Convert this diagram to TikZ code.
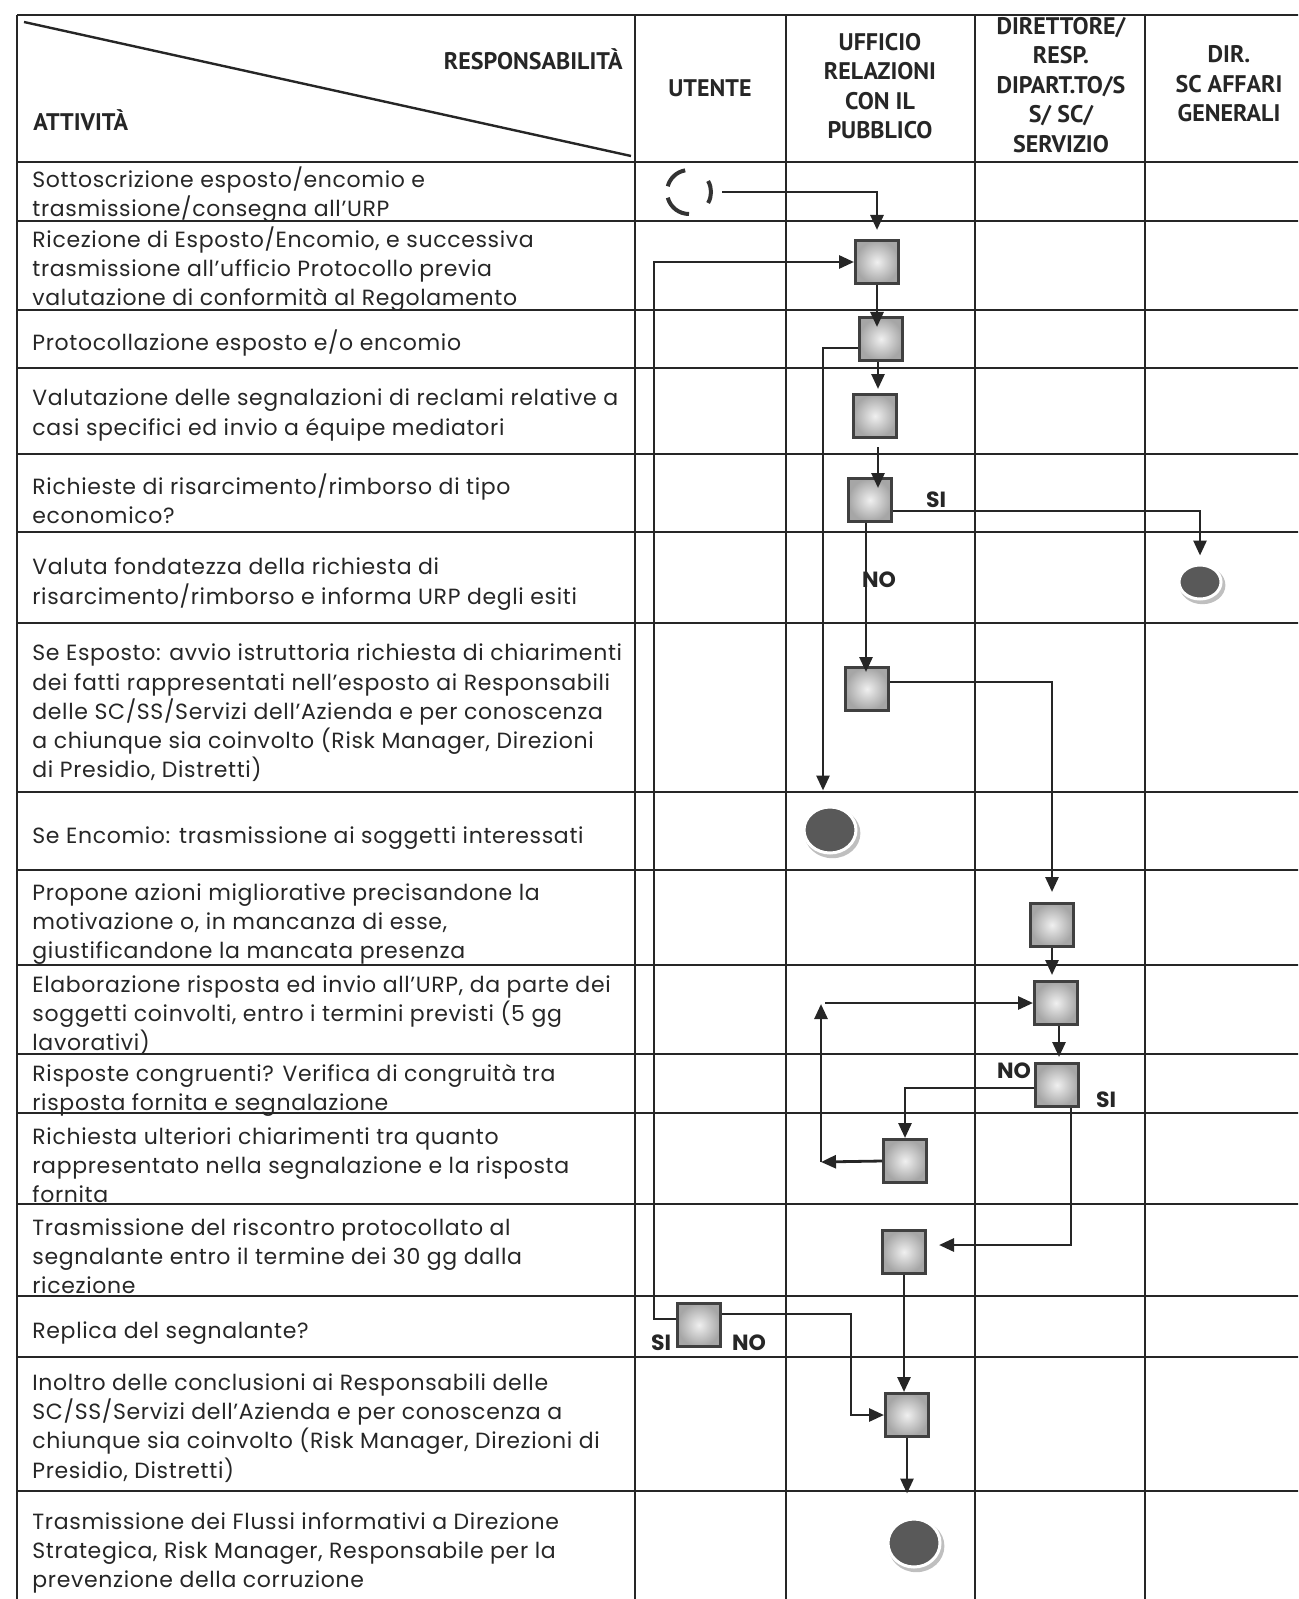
\documentclass[tikz,border=0pt]{standalone}
\usepackage{fontspec}
\setmainfont{Poppins}
\newfontfamily\bodyfont[LetterSpace=3]{Poppins}
\newfontfamily\headfont{PT Sans}
\usetikzlibrary{arrows.meta,shapes.geometric,backgrounds}

\begin{document}
\begin{tikzpicture}[x=0.5pt,y=-0.5pt,
    grid/.style={line width=0.9pt,draw=black!85},
    head/.style={font=\headfont\bfseries\fontsize{12}{14.75}\selectfont,align=center,text=black!85,inner sep=0pt},
    activity/.style={anchor=west,align=left,inner sep=0pt,font=\bodyfont\fontsize{11}{14.6}\selectfont,text=black!85},
    stepbox/.style={rectangle,minimum size=21.5pt,inner sep=0pt,draw=black!75,line width=1.5pt,shade,inner color=gray!12,outer color=gray!70},
    endpt/.style={ellipse,fill=black!65,draw=white,line width=1.5pt,inner sep=0pt},
    flow/.style={line width=1.4pt,draw=black!85,-{Triangle[length=7.5pt,width=6.5pt]}},
    branch/.style={font=\bfseries\fontsize{11}{13}\selectfont,text=black!85,inner sep=0pt}]
    \useasboundingbox (0,0) rectangle (1298,1599);
    \clip (0,0) rectangle (1298,1599);
    %% table
    \foreach \y in {15,162,221,310,368,454,532,623,792,870,965,1054,1113,1204,1296,1357,1491}
        \draw[grid] (17,\y) -- (1310,\y);
    \foreach \x in {17,635,786,975,1145}
        \draw[grid] (\x,15) -- (\x,1620);
    \draw[line width=1.2pt,black!85] (24,22) -- (631,156);
    %% header
    \node[head,anchor=east] (resp) at (623,59) {RESPONSABILITÀ};
    \node[head,anchor=west] (att) at (33,120) {ATTIVITÀ};
    \node[head] (utente) at (710,88) {UTENTE};
    \node[head] (urp) at (880,86) {UFFICIO\\RELAZIONI\\CON IL\\PUBBLICO};
    \node[head] (dir) at (1061,85) {DIRETTORE/\\RESP.\\DIPART.TO/S\\S/ SC/\\SERVIZIO};
    \node[head] (affari) at (1229,84) {DIR.\\SC AFFARI\\GENERALI};
    %% activities
    \node[activity] (a1) at (32,195) {Sottoscrizione esposto/encomio e\\trasmissione/consegna all’URP};
    \node[activity] (a2) at (32,269) {Ricezione di Esposto/Encomio, e successiva\\trasmissione all’ufficio Protocollo previa\\valutazione di conformità al Regolamento};
    \node[activity] (a3) at (32,343) {Protocollazione esposto e/o encomio};
    \node[activity] (a4) at (32,415) {Valutazione delle segnalazioni di reclami relative a\\casi specifici ed invio  a équipe mediatori};
    \node[activity] (a5) at (32,499) {Richieste di risarcimento/rimborso di tipo\\economico?};
    \node[activity] (a6) at (32,584) {Valuta fondatezza della richiesta di\\risarcimento/rimborso  e informa URP degli esiti};
    \node[activity] (a7) at (32,713) {Se Esposto: avvio istruttoria richiesta di chiarimenti\\dei fatti rappresentati nell’esposto ai Responsabili\\delle SC/SS/Servizi dell’Azienda e per conoscenza\\a chiunque sia coinvolto (Risk Manager, Direzioni\\di Presidio, Distretti)};
    \node[activity] (a8) at (32,838) {Se Encomio: trasmissione ai soggetti interessati};
    \node[activity] (a9) at (32,924) {Propone azioni migliorative  precisandone la\\motivazione o, in mancanza di esse,\\giustificandone la mancata presenza};
    \node[activity] (a10) at (32,1015) {Elaborazione risposta ed invio all’URP, da parte dei\\soggetti coinvolti, entro i termini previsti (5 gg\\lavorativi)};
    \node[activity] (a11) at (32,1090) {Risposte congruenti? Verifica di congruità tra\\risposta fornita e segnalazione};
    \node[activity] (a12) at (32,1165) {Richiesta ulteriori chiarimenti tra quanto\\rappresentato nella segnalazione e la risposta\\fornita};
    \node[activity] (a13) at (32,1256) {Trasmissione del riscontro protocollato al\\segnalante  entro il termine dei 30 gg dalla\\ricezione};
    \node[activity] (a14) at (32,1333) {Replica del segnalante?};
    \node[activity] (a15) at (32,1428) {Inoltro delle conclusioni ai Responsabili delle\\SC/SS/Servizi dell’Azienda e per conoscenza a\\chiunque sia coinvolto (Risk Manager, Direzioni di\\Presidio, Distretti)};
    \node[activity] (a16) at (32,1553) {Trasmissione dei Flussi informativi a Direzione\\Strategica, Risk Manager, Responsabile per la\\prevenzione della corruzione};
    %% start
    \node[circle,minimum size=22pt,inner sep=0pt] (start) at (689,192) {};
    \foreach \a/\b in {100/165,195/270,-30/30}
        \draw[line width=2pt,black!80] ([shift={(\a:11pt)}]start.center) arc[start angle=\a,end angle=\b,radius=11pt];
    %% steps
    \node[stepbox] (ric) at (877,262) {};
    \node[stepbox] (prot) at (881,339) {};
    \node[stepbox] (val) at (875,416) {};
    \node[stepbox] (risarc) at (870,500) {};
    \node[stepbox] (esposto) at (867,689) {};
    \node[stepbox] (propone) at (1052,925) {};
    \node[stepbox] (elab) at (1056,1003) {};
    \node[stepbox] (congr) at (1057,1085) {};
    \node[stepbox] (ulter) at (905,1161) {};
    \node[stepbox] (riscontro) at (904,1252) {};
    \node[stepbox] (replica) at (699,1325) {};
    \node[stepbox] (inoltro) at (907,1415) {};
    %% ends
    \node[endpt,minimum width=21pt,minimum height=17pt] (endaffari) at (1200,582) {};
    \node[endpt,minimum width=26pt,minimum height=23pt] (endencomio) at (830,830) {};
    \node[endpt,minimum width=26pt,minimum height=24pt] (endflussi) at (914,1543) {};
    \begin{scope}[on background layer]
        \foreach \e/\rx/\ry in {endaffari/11.5/9.5,endencomio/14/12.5,endflussi/14/13}
            \fill[gray!50] ([shift={(1.2pt,-1.6pt)}]\e.center) ellipse[x radius=\rx pt,y radius=\ry pt];
    \end{scope}
    %% labels
    \node[branch] (si1) at (936,500) {SI};
    \node[branch] (no1) at (879,580) {NO};
    \node[branch] (no2) at (1014,1071) {NO};
    \node[branch] (si2) at (1106,1100) {SI};
    \node[branch] (si3) at (661,1343) {SI};
    \node[branch] (no3) at (749,1343) {NO};
    %% connectors
    \coordinate (sicorner) at (654,262);
    \coordinate (nocorner) at (851,1415);
    \coordinate (backl) at (821,1162);
    \coordinate (backu) at (821,1004);
    \draw[flow,shorten >=4.5pt] ([xshift=5.5pt]start.east) -| (ric.north);
    \draw[flow,shorten >=-5.5pt] (ric.south) -- (ric.south |- prot.north);
    \draw[flow,shorten >=2pt] ([xshift=-1.5pt]prot.south) -- ([xshift=-1.5pt]prot.south |- val.north);
    \draw[flow,shorten <=4pt,shorten >=-5.5pt] ([xshift=1.5pt]val.south) -- ([xshift=1.5pt]val.south |- risarc.north);
    \draw[flow,shorten >=4pt] ([yshift=-5.5pt]risarc.east) -| (endaffari.north);
    \draw[flow,shorten >=-3pt] ([xshift=-2pt]risarc.south) -- ([xshift=-2pt]risarc.south |- esposto.north);
    \draw[flow] ([yshift=-4.5pt]prot.west) -| ([xshift=-3.5pt,yshift=7.5pt]endencomio.north);
    \draw[flow,shorten >=5pt] ([yshift=3.5pt]esposto.east) -| (propone.north);
    \draw[flow,shorten >=2.5pt] (propone.south) -- (propone.south |- elab.north);
    \draw[flow,shorten >=2.5pt] ([xshift=1.5pt]elab.south) -- ([xshift=1.5pt]elab.south |- congr.north);
    \draw[flow] ([yshift=-1.5pt]congr.west) -| (ulter.north);
    \draw[flow] (ulter.west) -- (backl);
    \draw[flow] (backl) -- (backu);
    \draw[flow] ([xshift=2pt]elab.west -| backu) -- (elab.west);
    \draw[flow,shorten >=6pt] ([xshift=7pt]congr.south) |- ([yshift=3.5pt]riscontro.east);
    \draw[flow] (riscontro.south) -- (riscontro.south |- inoltro.north);
    \draw[flow] (inoltro.south) -- ([yshift=12pt]inoltro.south |- endflussi.north);
    \draw[flow] ([yshift=3pt]replica.west) -| (sicorner) -- (ric.west);
    \draw[flow] ([yshift=5.5pt]replica.east) -| (nocorner) -- (inoltro.west);
\end{tikzpicture}
\end{document}
